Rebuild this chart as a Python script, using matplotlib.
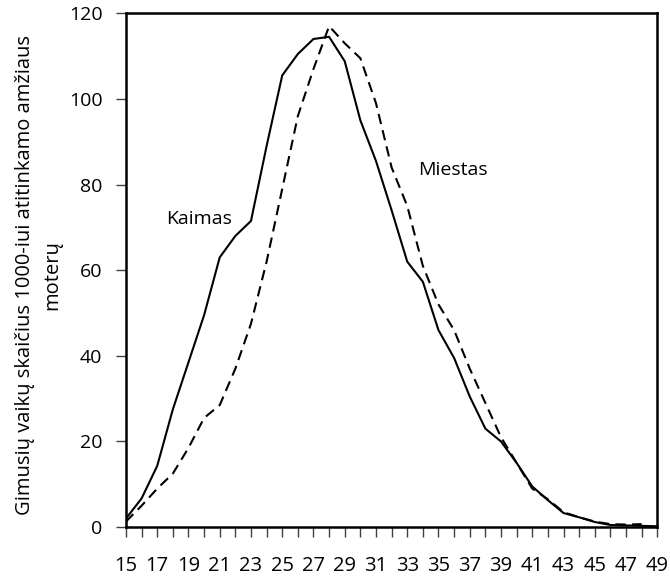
import matplotlib.pyplot as plt
import numpy as np

plt.rcParams['font.family'] = ['Open Sans', 'DejaVu Sans']

# age of mother, years
ages = list(range(15, 50))

# births per 1000 women of the given age
kaimas = [2.0, 6.7, 14.3, 27.5, 38.5, 49.5, 63.0, 68.0, 71.5, 89.0,
          105.5, 110.5, 114.0, 114.5, 108.8, 95.0, 85.5, 74.0, 62.0, 57.3,
          46.0, 39.5, 30.5, 23.0, 20.0, 15.0, 9.5, 6.3, 3.3, 2.3,
          1.2, 0.5, 0.4, 0.3, 0.2]
miestas = [1.3, 5.0, 9.0, 12.5, 18.5, 25.5, 28.5, 37.0, 47.5, 62.0,
           79.0, 96.0, 107.0, 117.0, 113.0, 109.5, 99.0, 84.0, 75.0, 61.0,
           52.0, 46.0, 37.0, 29.0, 21.0, 15.0, 9.0, 6.5, 3.5, 2.3,
           1.3, 0.7, 0.6, 0.7]

yticks = [0, 20, 40, 60, 80, 100, 120]
xlabels = list(range(15, 50, 2))

fig = plt.figure(figsize=(6.7, 5.78), dpi=100)
ax = fig.add_axes([0.188, 0.088, 0.793, 0.889])

ax.plot(ages, kaimas, color='black', lw=1.5)
ax.plot(ages[:len(miestas)], miestas, color='black', lw=1.5, dashes=(5, 3))

ax.text(19.7, 72, 'Kaimas', fontsize=14, ha='center', va='center')
ax.text(35.9, 83.5, 'Miestas', fontsize=14, ha='center', va='center')

ax.set_xlim(15, 49)
ax.set_ylim(0, 120)
ax.set_yticks(yticks)
ax.set_xticks(ages)
ax.set_xticklabels([str(a) if a in xlabels else '' for a in ages])
ax.tick_params(axis='both', direction='out', length=7, width=1,
               color='#404040')
ax.tick_params(axis='x', pad=14, labelsize=14.5)
ax.tick_params(axis='y', pad=10, labelsize=14)

for s in ax.spines.values():
    s.set_linewidth(1.8)
    s.set_color('black')

ax.set_ylabel('Gimusių vaikų skaičius 1000-iui atitinkamo amžiaus\nmoterų',
              fontsize=14.5, linespacing=1.45)
ax.yaxis.set_label_coords(-0.12, 0.49)

fig.savefig('out.png', dpi=100)
